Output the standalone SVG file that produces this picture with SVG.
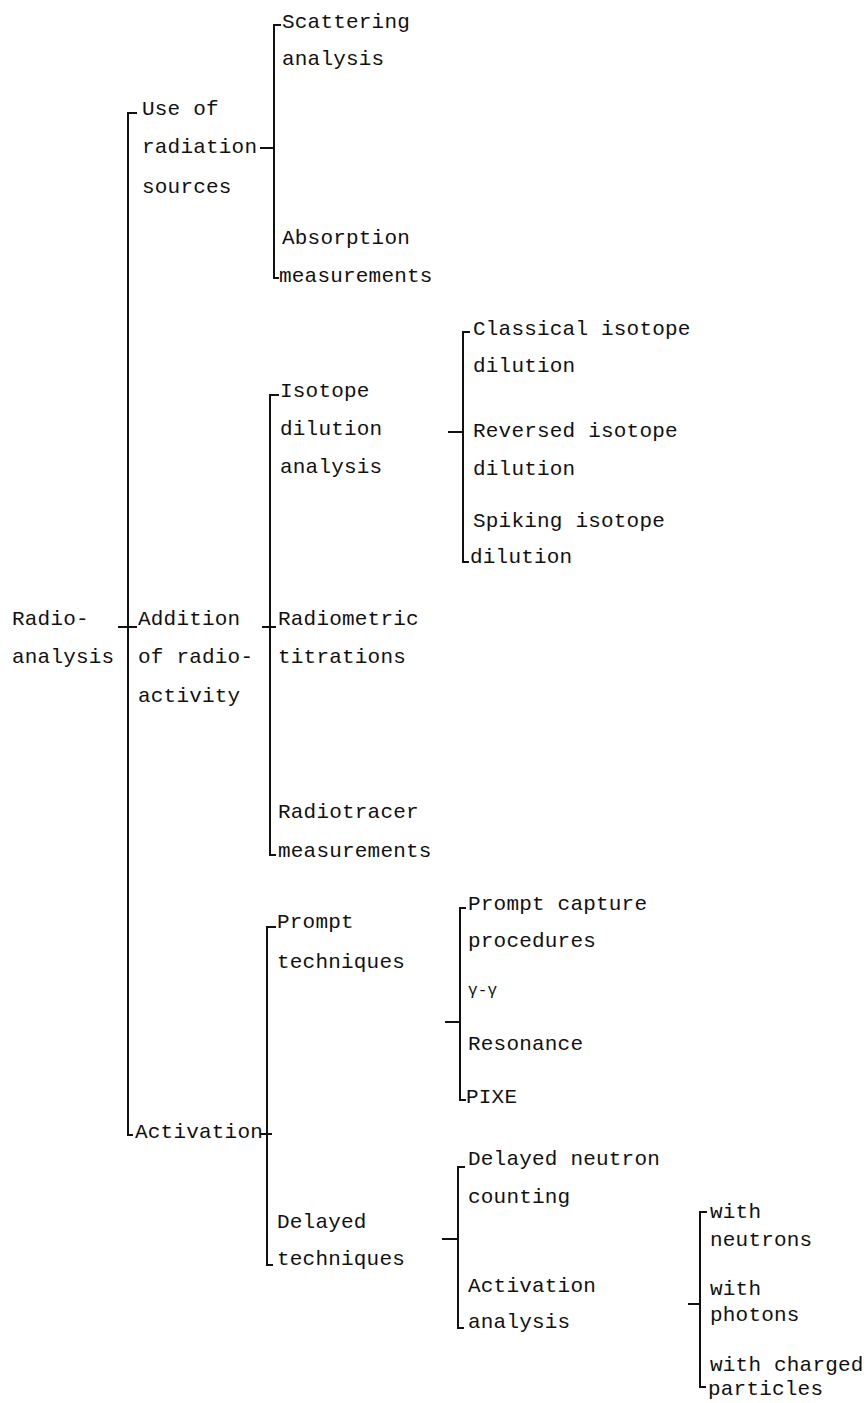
<svg xmlns="http://www.w3.org/2000/svg" width="867" height="1403" viewBox="0 0 867 1403">
<style>
text{font-family:"Liberation Mono","DejaVu Sans Mono",monospace;font-size:21px;fill:#111;letter-spacing:0.2px}
.sm{font-size:16px}
line,path{stroke:#111;stroke-width:2;fill:none}
</style>
<rect width="867" height="1403" fill="#fff"/>
<g id="connectors">
<!-- root -->
<line x1="118" y1="627" x2="137" y2="627"/>
<path d="M137,113 H128 V1135 H133"/>
<!-- use of radiation sources -->
<line x1="260" y1="148" x2="274" y2="148"/>
<path d="M281,25 H274 V278 H279"/>
<!-- addition -->
<line x1="262" y1="627" x2="276" y2="627"/>
<path d="M279,395 H270 V855 H276"/>
<!-- isotope dilution -->
<line x1="448" y1="432" x2="463" y2="432"/>
<path d="M470,332 H463 V562 H469"/>
<!-- activation -->
<line x1="260" y1="1134" x2="272" y2="1134"/>
<path d="M276,927 H267 V1265 H273"/>
<!-- prompt -->
<line x1="445" y1="1022" x2="460" y2="1022"/>
<path d="M466,908 H460 V1100 H466"/>
<!-- delayed -->
<line x1="442" y1="1239" x2="458" y2="1239"/>
<path d="M465,1167 H458 V1328 H464"/>
<!-- activation analysis -->
<line x1="688" y1="1304" x2="700" y2="1304"/>
<path d="M707,1212 H700 V1387 H706"/>
</g>
<g id="n-root"><text x="12" y="625">Radio-</text><text x="12" y="663">analysis</text></g>
<g id="n-use"><text x="142" y="115">Use of</text><text x="142" y="153">radiation</text><text x="142" y="193">sources</text></g>
<g id="n-scatter"><text x="282" y="28">Scattering</text><text x="282" y="65">analysis</text></g>
<g id="n-absorb"><text x="282" y="244">Absorption</text><text x="279" y="282">measurements</text></g>
<g id="n-addition"><text x="138" y="625">Addition</text><text x="138" y="663">of radio-</text><text x="138" y="702">activity</text></g>
<g id="n-isotope"><text x="280" y="397">Isotope</text><text x="280" y="435">dilution</text><text x="280" y="473">analysis</text></g>
<g id="n-classical"><text x="473" y="335">Classical isotope</text><text x="473" y="372">dilution</text></g>
<g id="n-reversed"><text x="473" y="437">Reversed isotope</text><text x="473" y="475">dilution</text></g>
<g id="n-spiking"><text x="473" y="527">Spiking isotope</text><text x="470" y="563">dilution</text></g>
<g id="n-radiometric"><text x="278" y="625">Radiometric</text><text x="278" y="663">titrations</text></g>
<g id="n-radiotracer"><text x="278" y="818">Radiotracer</text><text x="278" y="857">measurements</text></g>
<g id="n-activation"><text x="135" y="1138">Activation</text></g>
<g id="n-prompt"><text x="277" y="928">Prompt</text><text x="277" y="968">techniques</text></g>
<g id="n-pcapture"><text x="468" y="910">Prompt capture</text><text x="468" y="947">procedures</text></g>
<g id="n-gamma"><text class="sm" x="468" y="995">γ-γ</text><text x="468" y="1050">Resonance</text></g>
<g id="n-pixe"><text x="466" y="1103">PIXE</text></g>
<g id="n-delayed"><text x="277" y="1228">Delayed</text><text x="277" y="1265">techniques</text></g>
<g id="n-dnc"><text x="468" y="1165">Delayed neutron</text><text x="468" y="1203">counting</text></g>
<g id="n-aa"><text x="468" y="1292">Activation</text><text x="468" y="1328">analysis</text></g>
<g id="n-neutrons"><text x="710" y="1218">with</text><text x="710" y="1246">neutrons</text></g>
<g id="n-photons"><text x="710" y="1295">with</text><text x="710" y="1321">photons</text></g>
<g id="n-charged"><text x="710" y="1371">with charged</text><text x="708" y="1395">particles</text></g>
</svg>
